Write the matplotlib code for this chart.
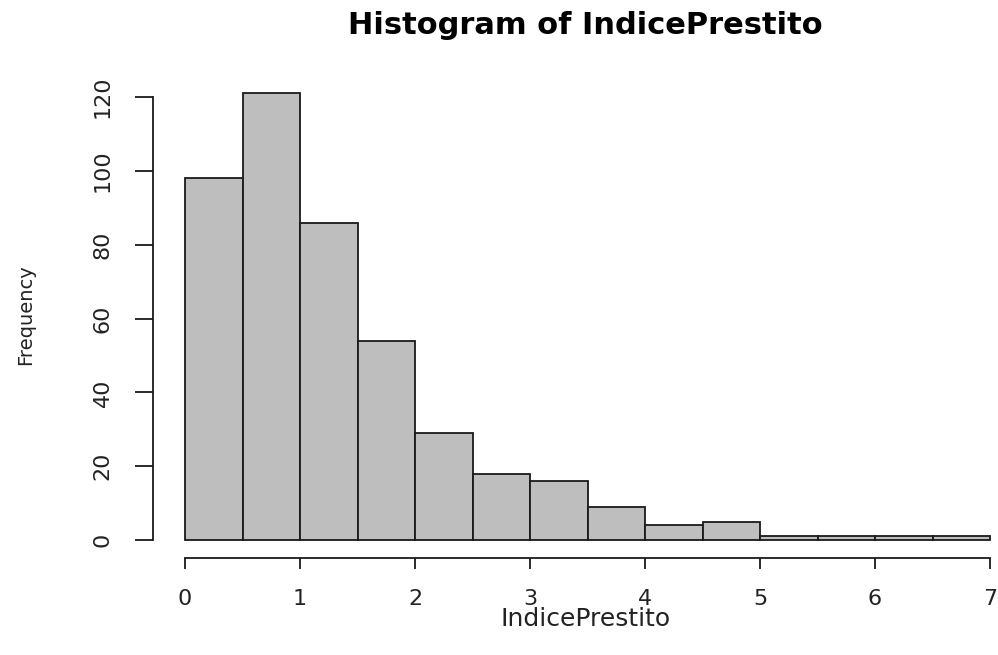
import numpy as np
import matplotlib.pyplot as plt

plt.rcParams['font.family'] = ['DejaVu Sans']

# bin edges of width 0.5 and the counts in each bin
bin_edges = np.arange(0, 7.5, 0.5)
counts = [98, 121, 86, 54, 29, 18, 16, 9, 4, 5, 1, 1, 1, 1]
x_ticks = [0, 1, 2, 3, 4, 5, 6, 7]
y_ticks = [0, 20, 40, 60, 80, 100, 120]

W, H = 998, 655
fig = plt.figure(figsize=(W / 100, H / 100), dpi=100)
# plot region in pixels: x 185..990, y 97..540
ax = fig.add_axes([185 / W, (H - 540) / H, (990 - 185) / W, (540 - 97) / H])

bars = ax.bar(bin_edges[:-1], counts, width=0.5, align='edge',
              color='#bebebe', edgecolor='#1a1a1a', linewidth=1.3)
for b in bars:
    b.set_clip_on(False)

ax.set_xlim(0, 7)
ax.set_ylim(0, 120)
ax.set_xticks(x_ticks)
ax.set_yticks(y_ticks)

for side in ('top', 'right'):
    ax.spines[side].set_visible(False)
ax.spines['left'].set_position(('outward', 32 * 72 / 100))
ax.spines['left'].set_bounds(0, 120)
ax.spines['bottom'].set_position(('outward', 18 * 72 / 100))
ax.spines['bottom'].set_bounds(0, 7)
for side in ('left', 'bottom'):
    ax.spines[side].set_linewidth(1.3)
    ax.spines[side].set_color('#1a1a1a')

ax.tick_params(axis='y', length=13, width=1.3, color='#1a1a1a',
               labelsize=16, pad=16, labelcolor='#222222', labelrotation=90)
for lbl in ax.get_yticklabels():
    lbl.set_va('center')
ax.tick_params(axis='x', length=8, width=1.3, color='#1a1a1a',
               labelsize=16, pad=14, labelcolor='#222222')

fig.text(585 / W, 1 - 25 / H, 'Histogram of IndicePrestito',
         ha='center', va='center', fontsize=22, fontweight='bold')
fig.text(586 / W, 1 - 619 / H, 'IndicePrestito',
         ha='center', va='center', fontsize=18, color='#222222')
fig.text(26 / W, 1 - 315 / H, 'Frequency', rotation=90,
         ha='center', va='center', fontsize=14, color='#222222')

fig.savefig('out.png', dpi=100)
